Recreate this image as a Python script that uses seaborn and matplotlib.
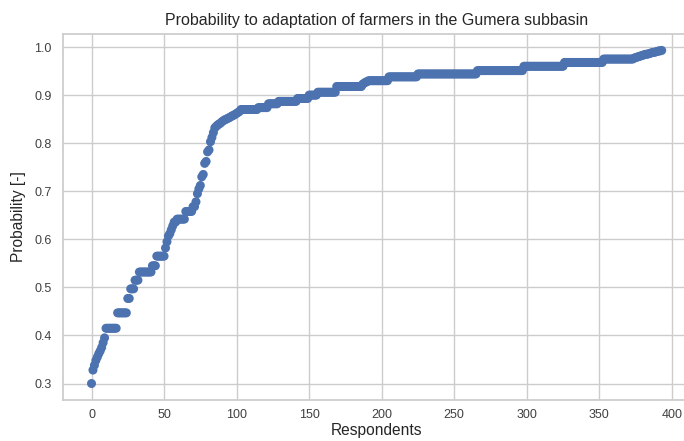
import numpy as np
import pandas as pd
import matplotlib
matplotlib.use("Agg")
import matplotlib.pyplot as plt
import seaborn as sns

# Sorted adaptation probabilities, stored as (level, number of respondents) runs
levels = [
    0.300, 0.328, 0.338, 0.348, 0.355, 0.362, 0.368, 0.375, 0.385, 0.395,
    0.415, 0.447, 0.477, 0.497, 0.515, 0.532, 0.545, 0.565,
    0.582, 0.595, 0.607, 0.612, 0.620, 0.628, 0.636, 0.642, 0.658, 0.668,
    0.678, 0.695, 0.705, 0.712, 0.730, 0.735, 0.758, 0.762, 0.782, 0.786,
    0.803, 0.812, 0.822, 0.832, 0.835, 0.838, 0.840, 0.842,
    0.845, 0.847, 0.849, 0.850, 0.852, 0.853,
    0.855, 0.857, 0.858, 0.860, 0.862, 0.864, 0.866,
    0.870, 0.874, 0.882, 0.887, 0.893, 0.900, 0.906, 0.918,
    0.923, 0.925, 0.927, 0.928, 0.930, 0.938, 0.944, 0.951, 0.960, 0.968, 0.975,
    0.977, 0.978, 0.979, 0.980, 0.981, 0.982, 0.983, 0.984, 0.985, 0.985,
    0.986, 0.987, 0.988, 0.989, 0.989, 0.990, 0.991, 0.992, 0.992, 0.993,
]
counts = [
    1, 1, 1, 1, 1, 1, 1, 1, 1, 1,
    8, 7, 2, 3, 3, 9, 3, 6,
    1, 1, 1, 1, 1, 1, 2, 6, 5, 2,
    1, 1, 1, 1, 1, 1, 1, 1, 1, 1,
    1, 1, 1, 1, 1, 1, 1, 1,
    1, 1, 1, 1, 1, 1,
    1, 1, 1, 1, 1, 1, 1,
    12, 7, 7, 13, 8, 6, 13, 18,
    1, 1, 1, 1, 14, 20, 41, 32, 28, 27, 21,
    1, 1, 1, 1, 1, 1, 1, 1, 1, 1,
    1, 1, 1, 1, 1, 1, 1, 1, 1, 1,
]

title = "Probability to adaptation of farmers in the Gumera subbasin"
x_label = "Respondents"
y_label = "Probability [-]"

probability = np.repeat(levels, counts)
df = pd.DataFrame({"Respondents": np.arange(len(probability)),
                   "Probability": probability})

sns.set_theme(style="whitegrid")
plt.rcParams["font.family"] = ["Liberation Sans", "DejaVu Sans"]

fig = plt.figure(figsize=(6.84, 4.41), dpi=100)
ax = fig.add_axes([0.0921, 0.0925, 0.917, 0.831])

sns.scatterplot(data=df, x="Respondents", y="Probability", ax=ax,
                color="#4C72B0", s=42, linewidth=0, edgecolor="none")

ax.set_xticks([0, 50, 100, 150, 200, 250, 300, 350, 400])
ax.set_yticks([0.3, 0.4, 0.5, 0.6, 0.7, 0.8, 0.9, 1.0])
ax.set_xlim(-19.65, 412.65)
ax.set_ylim(0.2653, 1.0277)

ax.set_title(title, fontsize=11.5, color="#262626", pad=6)
ax.set_xlabel(x_label, fontsize=11.2, color="#262626", labelpad=2)
ax.set_ylabel(y_label, fontsize=11.2, color="#262626", labelpad=6)
ax.tick_params(axis="both", labelsize=9, colors="#404040", length=0)
ax.tick_params(axis="x", pad=6)
ax.tick_params(axis="y", pad=8)

fig.savefig("out.png", dpi=100)
